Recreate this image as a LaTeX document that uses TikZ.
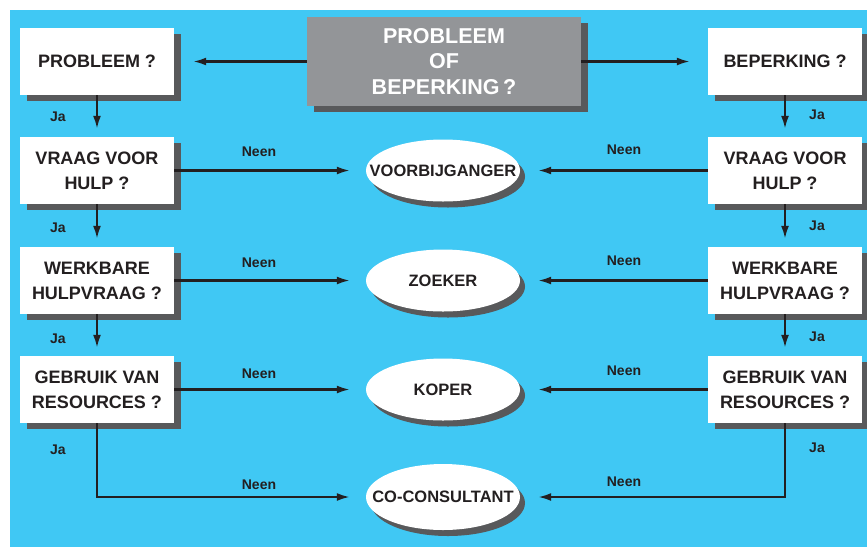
\documentclass[tikz,border=0pt]{standalone}
\usepackage{fontspec}
\setmainfont{Liberation Sans}
\usetikzlibrary{shapes.geometric,shadows,arrows.meta}
\definecolor{vblue}{HTML}{40C8F4}
\definecolor{vgray}{HTML}{939598}
\definecolor{vshadow}{HTML}{58595B}
\definecolor{vtext}{HTML}{231F20}

\newcommand{\rolnaam}[1]{\makebox[0pt]{#1}}

\tikzset{
	vraag/.style={fill=white, minimum width=154pt, minimum height=67pt, inner sep=0pt, align=center, text=vtext, font=\bfseries\fontsize{18}{25}\selectfont, drop shadow={shadow xshift=7pt, shadow yshift=-6pt, fill=vshadow, opacity=1}},
	rol/.style={ellipse, fill=white, minimum width=154pt, minimum height=62pt, inner sep=0pt, text=vtext, font=\bfseries\fontsize{16.5}{19}\selectfont, drop shadow={shadow xshift=5pt, shadow yshift=-6pt, fill=vshadow, opacity=1}},
	lbl/.style={text=vtext, font=\bfseries\fontsize{14}{16}\selectfont, inner sep=0pt},
	pijl/.style={draw=vtext, line width=2.2pt, -{Latex[length=13pt,width=8pt]}},
}

\begin{document}
\begin{tikzpicture}[x=1pt, y=-1pt]
		\useasboundingbox (0,0) rectangle (867,547);
		\fill[vblue] (10,10) rectangle (867,547);
		% start
		\node[vraag, fill=vgray, text=white, minimum width=274pt, minimum height=89pt, font=\bfseries\fontsize{21.5}{25.5}\selectfont] (start) at (444,61.5) {PROBLEEM\\OF\\BEPERKING\,?};
		% linker kolom
		\node[vraag] (p1) at (97,61.5) {PROBLEEM ?};
		\node[vraag] (p2) at (97,170.5) {VRAAG VOOR\\HULP ?};
		\node[vraag] (p3) at (97,280.5) {WERKBARE\\HULPVRAAG ?};
		\node[vraag] (p4) at (97,389.5) {GEBRUIK VAN\\RESOURCES ?};
		% rechter kolom
		\node[vraag] (b1) at (785,61.5) {BEPERKING ?};
		\node[vraag] (b2) at (785,170.5) {VRAAG VOOR\\HULP ?};
		\node[vraag] (b3) at (785,280.5) {WERKBARE\\HULPVRAAG ?};
		\node[vraag] (b4) at (785,389.5) {GEBRUIK VAN\\RESOURCES ?};
		% rollen
		\node[rol] (voorbij) at (443,170.5) {\rolnaam{VOORBIJGANGER}};
		\node[rol] (zoeker) at (443,280.5) {\rolnaam{ZOEKER}};
		\node[rol] (koper) at (443,389.5) {\rolnaam{KOPER}};
		\node[rol, minimum height=66pt] (cocons) at (443,497) {\rolnaam{CO-CONSULTANT}};
		% pijlen
		\draw[pijl, shorten >=19pt] (start) -- (p1);
		\draw[pijl, shorten >=18pt] (start) -- (b1);
		\draw[pijl, shorten >=8pt] (p1) -- (p2);
		\draw[pijl, shorten >=8pt] (p2) -- (p3);
		\draw[pijl, shorten >=8pt] (p3) -- (p4);
		\draw[pijl, shorten >=8pt] (b1) -- (b2);
		\draw[pijl, shorten >=8pt] (b2) -- (b3);
		\draw[pijl, shorten >=8pt] (b3) -- (b4);
		\draw[pijl, shorten >=16pt] (p2) -- (voorbij);
		\draw[pijl, shorten >=16pt] (p3) -- (zoeker);
		\draw[pijl, shorten >=16pt] (p4) -- (koper);
		\draw[pijl, shorten >=16pt] (p4.south) |- (cocons);
		\draw[pijl, shorten >=18pt] (b2) -- (voorbij);
		\draw[pijl, shorten >=18pt] (b3) -- (zoeker);
		\draw[pijl, shorten >=18pt] (b4) -- (koper);
		\draw[pijl, shorten >=18pt] (b4.south) |- (cocons);
		% labels
		\node[lbl] (ja1) at (58,117) {Ja};
		\node[lbl] (ja2) at (58,228) {Ja};
		\node[lbl] (ja3) at (58,339) {Ja};
		\node[lbl] (ja4) at (58,450) {Ja};
		\node[lbl] (ja5) at (817,115) {Ja};
		\node[lbl] (ja6) at (817,226) {Ja};
		\node[lbl] (ja7) at (817,337) {Ja};
		\node[lbl] (ja8) at (817,448) {Ja};
		\node[lbl] (neen1) at (259,152) {Neen};
		\node[lbl] (neen2) at (259,263) {Neen};
		\node[lbl] (neen3) at (259,374) {Neen};
		\node[lbl] (neen4) at (259,485) {Neen};
		\node[lbl] (neen5) at (624,150) {Neen};
		\node[lbl] (neen6) at (624,261) {Neen};
		\node[lbl] (neen7) at (624,371) {Neen};
		\node[lbl] (neen8) at (624,482) {Neen};
	\end{tikzpicture}
\end{document}
